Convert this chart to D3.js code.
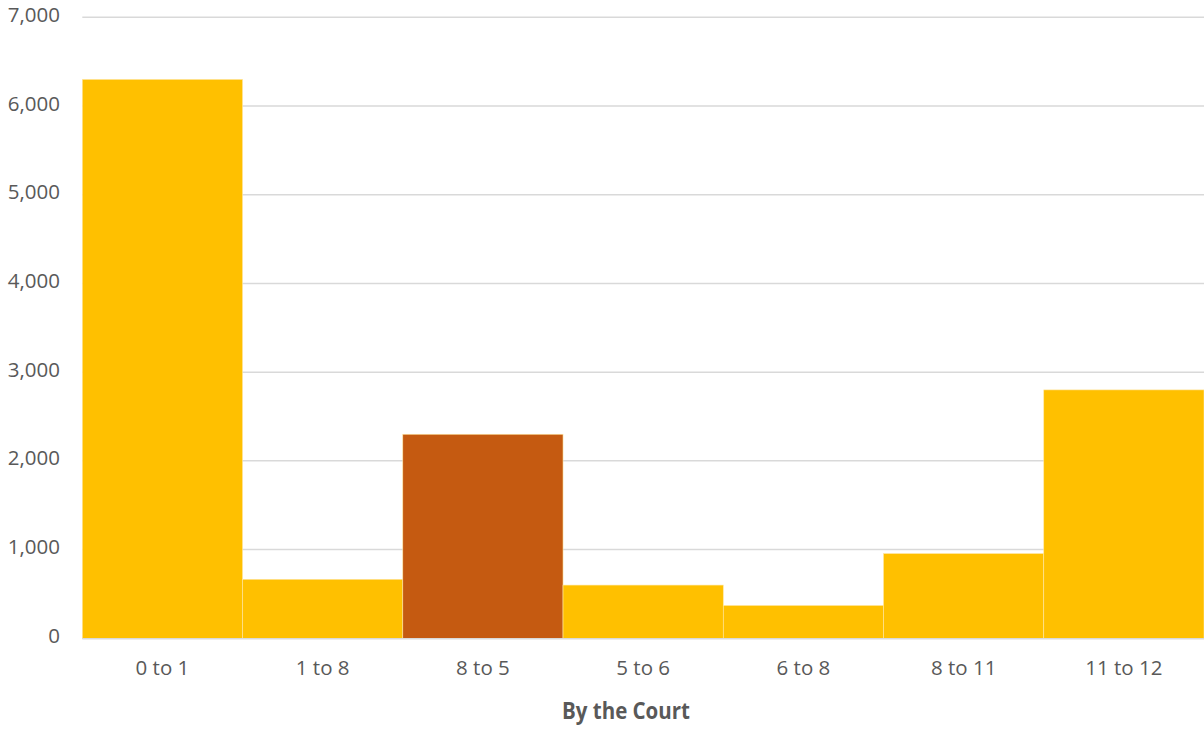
<!DOCTYPE html>
<html>
<head>
<meta charset="utf-8">
<script src="https://cdn.jsdelivr.net/npm/d3@7"></script>
<style>
  html, body { margin: 0; padding: 0; background: #fff; }
  svg { display: block; }
</style>
</head>
<body>
<svg id="chart" width="1204" height="730"></svg>
<script>
const categories = ["0 to 1", "1 to 8", "8 to 5", "5 to 6", "6 to 8", "8 to 11", "11 to 12"];
const values = [6300, 665, 2300, 600, 370, 955, 2800];
const highlighted = ["8 to 5"];
const yTicks = [0, 1000, 2000, 3000, 4000, 5000, 6000, 7000];
const titleText = "By the Court";

const svg = d3.select("#chart");
const margin = { left: 82.3, right: 0, top: 17.3, bottom: 91.7 };
const W = 1204, H = 730;

const x = d3.scaleBand().domain(categories)
  .range([margin.left, W - margin.right]).paddingInner(0).paddingOuter(0);
const y = d3.scaleLinear().domain([0, 7000]).range([H - margin.bottom, margin.top]);

const font = "'Open Sans', 'Liberation Sans', sans-serif";
const textColor = "#595959";

// gridlines
svg.append("g").selectAll("line").data(yTicks).join("line")
  .attr("x1", margin.left).attr("x2", W - margin.right)
  .attr("y1", d => y(d)).attr("y2", d => y(d))
  .attr("stroke", "#D9D9D9").attr("stroke-width", 1.5);

// bars
svg.append("g").selectAll("rect").data(categories).join("rect")
  .attr("x", d => x(d))
  .attr("y", (d, i) => y(values[i]))
  .attr("width", x.bandwidth())
  .attr("height", (d, i) => y(0) - y(values[i]))
  .attr("fill", d => highlighted.includes(d) ? "#C55A11" : "#FFC000")
  .attr("stroke", "#FFE7A3").attr("stroke-width", 0.6);

// baseline
svg.append("line")
  .attr("x1", margin.left).attr("x2", W - margin.right)
  .attr("y1", y(0) + 0.5).attr("y2", y(0) + 0.5)
  .attr("stroke", "#D9D9D9").attr("stroke-width", 1.5);

// y axis labels
const yAxis = d3.axisLeft(y).tickValues(yTicks).tickFormat(d3.format(",")).tickSize(0).tickPadding(0);
const gy = svg.append("g").attr("transform", `translate(60,0)`).call(yAxis);
gy.select(".domain").remove();
gy.selectAll("text")
  .attr("font-family", font).attr("font-size", 20.5)
  .attr("fill", textColor).attr("dy", "0.2em");

// x axis labels
const xAxis = d3.axisBottom(x).tickSize(0).tickPadding(0);
const gx = svg.append("g").attr("transform", `translate(0,${y(0)})`).call(xAxis);
gx.select(".domain").remove();
gx.selectAll("text")
  .attr("font-family", font).attr("font-size", 20.5)
  .attr("fill", textColor).attr("y", 22).attr("dy", "0.71em");

// title
svg.append("text")
  .attr("x", 626).attr("y", 718.5)
  .attr("text-anchor", "middle")
  .attr("font-family", font).attr("font-weight", "bold").attr("font-size", 23)
  .attr("fill", textColor)
  .attr("textLength", 128).attr("lengthAdjust", "spacingAndGlyphs")
  .text(titleText);
</script>
</body>
</html>
